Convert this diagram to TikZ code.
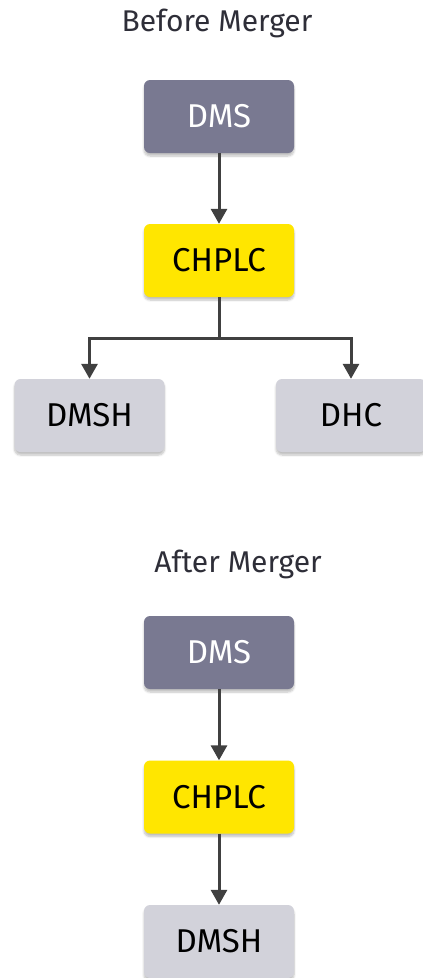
\documentclass[tikz,border=0pt]{standalone}
\usepackage{fontspec}
\setmainfont{Fira Sans}
\usetikzlibrary{arrows.meta,shadows.blur}
\definecolor{slate}{HTML}{797991}
\definecolor{sun}{HTML}{FFE600}
\definecolor{mist}{HTML}{D2D2DA}
\definecolor{ink}{HTML}{2E2E38}
\definecolor{wire}{HTML}{404040}
\tikzset{
  box/.style={rounded corners=6pt, minimum width=150pt, minimum height=73pt,
    inner sep=0pt, font=\fontsize{33}{36}\selectfont,
    blur shadow={shadow xshift=0pt, shadow yshift=-3pt, shadow blur steps=6, shadow opacity=25}},
  head/.style={box, fill=slate, text=white},
  mid/.style={box, fill=sun, text=black},
  leaf/.style={box, fill=mist, text=black},
  title/.style={font=\fontsize{30}{34}\selectfont, text=ink},
  link/.style={draw=wire, line width=3pt, -{Triangle[width=16pt,length=15pt]}},
}
\begin{document}
\begin{tikzpicture}[x=1pt,y=-1pt]
\useasboundingbox (0,0) rectangle (423,978);
\clip (0,0) rectangle (423,978);
% before the merger
\node[title] (t1) at (217,23) {Before Merger};
\node[head] (dms1) at (219,116.5) {DMS};
\node[mid] (ch1) at (219,260.5) {CHPLC};
\node[leaf] (dmsh1) at (89.5,415.5) {DMSH};
\node[leaf] (dhc1) at (351,415.5) {DHC};
\coordinate (split) at (219,338);
\draw[link] (dms1) -- (ch1);
\draw[wire, line width=3pt] (ch1.south) -- (split);
\draw[link] (split) -| (dmsh1.north);
\draw[link] (split) -| (dhc1.north);
% after the merger
\node[title] (t2) at (238,564) {After Merger};
\node[head] (dms2) at (219,652.5) {DMS};
\node[mid] (ch2) at (219,797) {CHPLC};
\node[leaf] (dmsh2) at (219,941.5) {DMSH};
\draw[link] (dms2) -- (ch2);
\draw[link] (ch2) -- (dmsh2);
\end{tikzpicture}
\end{document}
